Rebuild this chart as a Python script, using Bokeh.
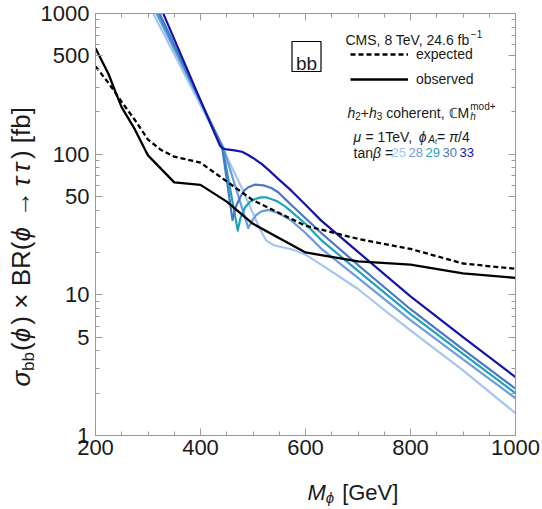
import math
from bokeh.plotting import figure
from bokeh.layouts import row, column
from bokeh.models import (Range1d, LogAxis, LinearAxis, FixedTicker, PrintfTickFormatter,
                          Label, BoxAnnotation, Legend, LegendItem)
from bokeh.embed import file_html
from bokeh.resources import INLINE

# ---------------- data ----------------
mass_obs = [200, 225, 240, 250, 275, 300, 350, 400, 450, 500, 600, 700, 800, 900, 1000]
xsec_obs = [566, 370, 265, 215, 150, 98, 63, 60.5, 46, 32, 20, 17.3, 16.4, 14.2, 13.2]

mass_exp = [200, 225, 250, 275, 300, 325, 350, 400, 450, 500, 600, 700, 800, 900, 1000]
xsec_exp = [421, 320, 235, 175, 127, 107, 96, 87, 64, 47, 31, 25, 21.2, 16.7, 15.3]

mass_tb25 = [300, 441, 480, 500, 515, 525, 540, 560, 575, 600, 640, 700, 750, 800, 900, 1000]
xsec_tb25 = [1180, 113, 56, 38, 28.5, 24.3, 22.5, 21.6, 21, 19.3, 15.5, 11, 7.8, 5.6, 2.9, 1.44]

mass_tb28 = [300, 444, 491, 497, 505, 515, 529, 545, 560, 573, 600, 630, 700, 800, 900, 1000]
xsec_tb28 = [1320, 110, 29.8, 33, 36.5, 39, 40.2, 38.5, 36, 33.7, 27.5, 21.3, 13.2, 6.6, 3.47, 1.84]

mass_tb29 = [300, 442, 471, 476, 485, 495, 504, 515, 525, 545, 561, 573, 600, 630, 700, 800, 900, 1000]
xsec_tb29 = [1430, 112, 28.6, 35, 42, 46, 48, 49.3, 49.4, 46.5, 42.5, 39, 32, 24.5, 14.8, 7.3, 3.8, 2.0]

mass_tb30 = [300, 441, 461, 467, 475, 483, 491, 504, 520, 535, 548, 560, 573, 600, 630, 700, 800, 900, 1000]
xsec_tb30 = [1500, 113, 34, 42, 49, 55, 58.2, 60.8, 60, 57.5, 53.6, 48.5, 43.5, 35, 27.5, 16.3, 7.9, 4.1, 2.15]

mass_tb33 = [300, 437, 442, 450, 465, 479, 490, 500, 517, 530, 548, 573, 600, 630, 700, 800, 900, 1000]
xsec_tb33 = [1790, 115, 110, 108, 106.5, 104, 99, 94, 85, 77, 66.7, 55, 43.7, 33.7, 20.2, 9.75, 5.0, 2.6]

tanb_labels = ["25", "28", "29", "30", "33"]

x_major = [200, 400, 600, 800, 1000]
x_minor = [250, 300, 350, 450, 500, 550, 650, 700, 750, 850, 900, 950]
y_major = [1, 5, 10, 50, 100, 500, 1000]
y_minor = [2, 3, 4, 6, 7, 8, 9, 20, 30, 40, 60, 70, 80, 90, 200, 300, 400, 600, 700, 800, 900]

# ---------------- style ----------------
FONT = "Liberation Sans"
TXT = "#1a1a1a"
AX = "#9a9a9a"
colors = {"25": "#a4c6ee", "28": "#6c9ce0", "29": "#1fa3b8", "30": "#4a78c4", "33": "#1414aa"}

YW = 37             # width of the strip holding the y title
MAIN_H = 470        # height of the main plot
FL, FR, FT, FB = 93, 515, 13, 435  # frame edges in page pixels

p = figure(width=542 - YW, height=MAIN_H, x_range=Range1d(200, 1000), y_range=Range1d(1, 1000),
           y_axis_type="log", output_backend="svg", toolbar_location=None,
           min_border_left=FL - YW, min_border_right=542 - FR, min_border_top=FT,
           min_border_bottom=MAIN_H - FB)
p.background_fill_color = "white"
p.border_fill_color = "white"
p.grid.visible = False
p.outline_line_color = AX

def style_axis(ax, show_labels, ticks=None):
    ax.axis_line_color = AX
    ax.major_tick_line_color = AX
    ax.minor_tick_line_color = AX
    ax.major_tick_in = 7
    ax.major_tick_out = 0
    ax.minor_tick_in = 4
    ax.minor_tick_out = 0
    ax.axis_label = None
    if show_labels:
        ax.major_label_text_font = FONT
        ax.major_label_text_font_size = "22px"
        ax.major_label_text_color = TXT
    else:
        ax.major_label_overrides = {t: "" for t in ticks}
        ax.major_label_standoff = 0

p.xaxis.ticker = FixedTicker(ticks=x_major, minor_ticks=x_minor)
p.yaxis.ticker = FixedTicker(ticks=y_major, minor_ticks=y_minor)
p.yaxis.formatter = PrintfTickFormatter(format="%d")
for ax in p.xaxis:
    style_axis(ax, True)
    ax.major_label_standoff = 4
for ax in p.yaxis:
    style_axis(ax, True)
    ax.major_label_standoff = 6

top = LinearAxis(ticker=FixedTicker(ticks=x_major, minor_ticks=x_minor))
style_axis(top, False, x_major)
p.add_layout(top, "above")
right = LogAxis(ticker=FixedTicker(ticks=y_major, minor_ticks=y_minor))
style_axis(right, False, y_major)
p.add_layout(right, "right")

# ---------------- curves ----------------
for key, xs, ys in [("25", mass_tb25, xsec_tb25), ("28", mass_tb28, xsec_tb28),
                    ("29", mass_tb29, xsec_tb29), ("30", mass_tb30, xsec_tb30),
                    ("33", mass_tb33, xsec_tb33)]:
    p.line(xs, ys, line_color=colors[key], line_width=2.2, line_join="round")

r_exp = p.line(mass_exp, xsec_exp, line_color="black", line_width=2.3, line_dash="5 3")
r_obs = p.line(mass_obs, xsec_obs, line_color="black", line_width=2.3, line_join="round")

legend = Legend(items=[LegendItem(label="expected", renderers=[r_exp]),
                       LegendItem(label="observed", renderers=[r_obs])],
                location=(348 - FL, FB - 89), orientation="vertical",
                background_fill_alpha=0, border_line_color=None, padding=0, margin=0,
                spacing=5, glyph_width=58, glyph_height=20, label_standoff=8,
                label_height=20, label_text_font=FONT, label_text_font_size="14px",
                label_text_color=TXT)
p.add_layout(legend)

# ---------------- text helpers ----------------
CW = {' ': 278, '!': 278, '(': 333, ')': 333, '+': 584, ',': 278, '-': 333, '.': 278,
      '/': 278, '=': 584, 'A': 667, 'B': 667, 'C': 722, 'G': 778, 'M': 833, 'R': 722,
      'S': 667, 'T': 611, 'V': 667, '[': 278, ']': 278, 'a': 556, 'b': 556, 'c': 500,
      'd': 556, 'e': 556, 'f': 278, 'h': 556, 'm': 833, 'n': 556, 'o': 556, 'p': 556,
      'r': 333, 't': 278, 'x': 500, 'σ': 600, 'ϕ': 680, 'τ': 480, 'μ': 577, 'β': 575,
      'π': 650, '×': 584, '→': 880, 'ℂ': 722, '−': 584}
for d in "0123456789":
    CW[d] = 556

def tw(s, size):
    return sum(CW.get(c, 600) for c in s) * size / 1000.0

def place_runs(fig, ox, oy, runs, sx, sy, vertical=False, baseline="alphabetic"):
    """runs: (text, size, italic, dy, color, advance[, dx]); (sx, sy) page pixels of the
    run line start; (ox, oy) page pixels of the figure frame's bottom-left corner."""
    pos = 0.0
    for r in runs:
        text, size, italic, dy, color, adv = r[:6]
        dx = r[6] if len(r) > 6 else 0.0
        pos += dx
        lead = tw(text[:len(text) - len(text.lstrip(' '))], size)
        shown = text.strip(' ')
        if vertical:
            fx = (sx - ox) - dy
            fy = (oy - sy) + pos + lead
            ang = math.pi / 2
        else:
            fx = (sx - ox) + pos + lead
            fy = (oy - sy) + dy
            ang = 0
        fig.add_layout(Label(x=fx, y=fy, x_units="screen", y_units="screen", text=shown,
                             angle=ang, text_font=FONT, text_font_size=f"{size}px",
                             text_font_style="italic" if italic else "normal",
                             text_color=color, text_baseline=baseline, text_align="left"))
        if adv:
            pos += tw(text, size)
    return pos

def text_strip(w, h):
    f = figure(width=w, height=h, x_range=Range1d(0, 1), y_range=Range1d(0, 1),
               output_backend="svg", toolbar_location=None, min_border=0,
               x_axis_location=None, y_axis_location=None)
    f.grid.visible = False
    f.outline_line_color = None
    f.background_fill_color = "white"
    f.border_fill_color = "white"
    return f

# y title strip (page x 0..YW, y 0..509); text centred on a vertical line
ystrip = text_strip(YW, 509)
place_runs(ystrip, 0, 509,
           [("σ", 26, True, 0, TXT, True), ("bb", 17, False, -8, TXT, True),
            ("(", 26, False, 0, TXT, True, 1), ("ϕ", 26, True, 0, TXT, True),
            (")", 26, False, 0, TXT, True), (" × ", 26, False, 0, TXT, True),
            ("BR(", 26, False, 0, TXT, True), ("ϕ", 26, True, 0, TXT, True),
            (" → ", 26, False, 0, TXT, True), ("τ", 26, True, 0, TXT, True),
            ("τ", 26, True, 0, TXT, True, 1.5),
            (") [fb]", 26, False, 0, TXT, True, 1)], 20, 386, vertical=True,
           baseline="middle")

# x title strip (page x YW..542, y MAIN_H..509)
xstrip = text_strip(542 - YW, 509 - MAIN_H)
place_runs(xstrip, YW, 509,
           [("M", 22, True, 0, TXT, True), ("ϕ", 15, True, -5, TXT, True),
            (" [GeV]", 22, False, 0, TXT, True)], 249, 492)

# annotations inside the frame
place_runs(p, FL, FB, [("CMS, 8 TeV, 24.6 fb", 14, False, 0, TXT, True),
                       ("−1", 10, False, 6, TXT, True, -1.5)], 343, 39)

p.add_layout(BoxAnnotation(left=289.5 - FL, right=318.5 - FL, top=FB - 41, bottom=FB - 71,
                           left_units="screen", right_units="screen", top_units="screen",
                           bottom_units="screen", fill_alpha=0, line_color="black",
                           line_alpha=1, line_width=1.2))
p.add_layout(Label(x=304 - FL, y=FB - 63, x_units="screen", y_units="screen", text="bb",
                   text_font=FONT, text_font_size="19px", text_color=TXT,
                   text_baseline="alphabetic", text_align="center"))

place_runs(p, FL, FB,
           [("h", 14, True, 0, TXT, True), ("2", 10, False, -3, TXT, True),
            ("+", 14, False, 0, TXT, True), ("h", 14, True, 0, TXT, True),
            ("3", 10, False, -3, TXT, True), (" coherent, ℂM", 14, False, 0, TXT, True),
            ("h", 10, True, -4, TXT, False), ("mod+", 10, False, 6, TXT, True)], 345, 112)

place_runs(p, FL, FB,
           [("μ", 14, True, 0, TXT, True), (" = 1TeV, ", 14, False, 0, TXT, True),
            ("ϕ", 14, True, 0, TXT, True), ("A", 10, True, -3, TXT, True),
            ("t", 7, True, -5, TXT, True), ("= ", 14, False, 0, TXT, True),
            ("π", 14, True, 0, TXT, True), ("/4", 14, False, 0, TXT, True)], 351, 136)

place_runs(p, FL, FB, [("tan", 14, False, 0, TXT, True), ("β", 14, True, 0, TXT, True),
                       (" =", 14, False, 0, TXT, True)], 351, 152)
for i, lab in enumerate(tanb_labels):
    place_runs(p, FL, FB, [(lab, 13, False, 0, colors[lab], True)], 389 + 17 * i, 152)

layout = row(ystrip, column(p, xstrip))
open("out.html", "w").write(file_html(layout, INLINE))
